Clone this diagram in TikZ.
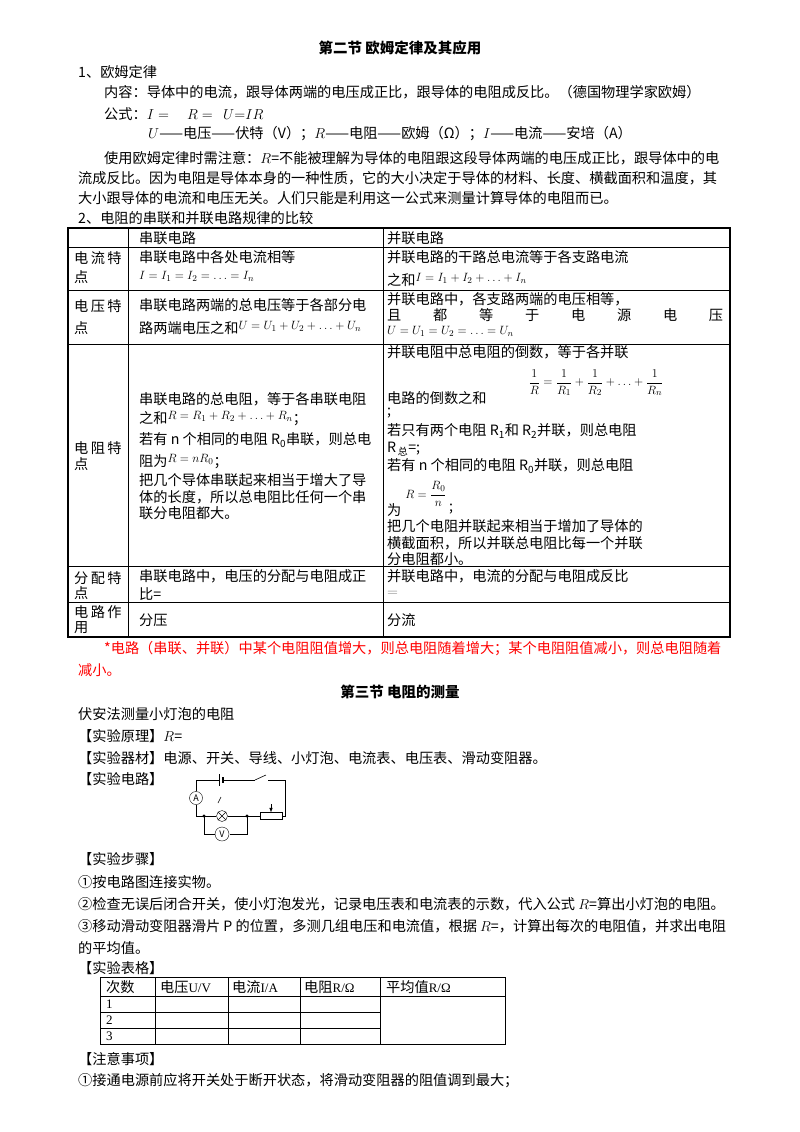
\documentclass[tikz,border=0pt]{standalone}
\usepackage{fontspec}
\setmainfont{Noto Sans CJK SC}
\newfontfamily\tms{Liberation Serif}
\newcommand{\fs}{\fontsize{14}{16}\selectfont}
\newcommand{\fss}{\fontsize{13}{15}\selectfont}
\newcommand{\up}[1]{\raisebox{4pt}{\fss$#1$}}
\begin{document}
\begin{tikzpicture}[x=1pt,y=-1pt,
  t/.style={anchor=west,inner sep=0pt,font=\fontsize{14.2}{16}\selectfont},
  tb/.style={t,font=\fontsize{14.5}{16}\selectfont\bfseries},
  ln/.style={line width=0.6pt},
  thk/.style={line width=1.4pt}]
\useasboundingbox (0,0) rectangle (800,1132);
\fill[white] (0,0) rectangle (800,1132);
\node[tb,anchor=center] (title) at (400,48) {第二节\ 欧姆定律及其应用};
\node[t] (l1) at (78,72) {1、欧姆定律};
\node[t] (l2) at (104,92) {内容：导体中的电流，跟导体两端的电压成正比，跟导体的电阻成反比。（德国物理学家欧姆）};
\node[t] (l3) at (104,114) {公式：{\fs$I=\quad R=\ \ U{=}IR$}};
\node[t] (l4) at (148,134) {{\fs$U$}——电压——伏特（V）；{\fs$R$}——电阻——欧姆（Ω）；{\fs$I$}——电流——安培（A）};
\node[t] (l5) at (104,158) {使用欧姆定律时需注意：{\fs$R$}=不能被理解为导体的电阻跟这段导体两端的电压成正比，跟导体中的电};
\node[t] (l6) at (78,178) {流成反比。因为电阻是导体本身的一种性质，它的大小决定于导体的材料、长度、横截面积和温度，其};
\node[t] (l7) at (78,198) {大小跟导体的电流和电压无关。人们只能是利用这一公式来测量计算导体的电阻而已。};
\node[t] (l8) at (78,218) {2、电阻的串联和并联电路规律的比较};
% table
\draw[thk] (68,228) rectangle (730,637);
\foreach \y in {247,290,344,566,602}{\draw[ln] (68,\y)--(730,\y);}
\draw[ln] (128,228)--(128,637);
\draw[ln] (383,228)--(383,637);
\node[t] (h1) at (139,238) {串联电路};
\node[t] (h2) at (387,238) {并联电路};
\node[t] (a1) at (74,258) {电\,流\,特};
\node[t] (a2) at (74,277) {点};
\node[t] (a3) at (74,306) {电\,压\,特};
\node[t] (a4) at (74,328) {点};
\node[t] (a5) at (74,448) {电\,阻\,特};
\node[t] (a6) at (74,464) {点};
\node[t] (a7) at (74,578) {分\,配\,特};
\node[t] (a8) at (74,593) {点};
\node[t] (a9) at (74,612) {电\,路\,作};
\node[t] (a10) at (74,628) {用};
\node[t] (b1) at (139,257) {串联电路中各处电流相等};
\node[t] (b2) at (139,276) {\fss$I=I_1=I_2=\ldots=I_n$};
\node[t] (b3) at (387,257) {并联电路的干路总电流等于各支路电流};
\node[t] (b4) at (387,280) {之和\up{I=I_1+I_2+\ldots+I_n}};
\node[t] (c1) at (139,305) {串联电路两端的总电压等于各部分电};
\node[t] (c2) at (139,328) {路两端电压之和\up{U=U_1+U_2+\ldots+U_n}};
\node[t] (c3) at (387,299) {并联电路中，各支路两端的电压相等，};
\node[t] (c4) at (387,315) {\makebox[336pt][s]{且\hfill 都\hfill 等\hfill 于\hfill 电\hfill 源\hfill 电\hfill 压}};
\node[t] (c5) at (387,331) {\fss$U=U_1=U_2=\ldots=U_n$};
\node[t] (d1) at (139,399) {串联电路的总电阻，等于各串联电阻};
\node[t] (d2) at (139,419) {之和\up{R=R_1+R_2+\ldots+R_n}；};
\node[t] (d3) at (139,440) {若有 n 个相同的电阻 R\textsubscript{0}串联，则总电};
\node[t] (d4) at (139,462) {阻为\up{R=nR_0}；};
\node[t] (d5) at (139,480) {把几个导体串联起来相当于增大了导};
\node[t] (d6) at (139,497) {体的长度，所以总电阻比任何一个串};
\node[t] (d7) at (139,513) {联分电阻都大。};
\node[t] (e1) at (387,352) {并联电阻中总电阻的倒数，等于各并联};
\node[t] (e2) at (387,398) {电路的倒数之和};
\node[t,anchor=center] (e2f) at (596,383) {\fss$\displaystyle\frac{1}{R}=\frac{1}{R_1}+\frac{1}{R_2}+\ldots+\frac{1}{R_n}$};
\node[t] (e3) at (387,413) {;};
\node[t] (e4) at (387,431) {若只有两个电阻 R\textsubscript{1}和 R\textsubscript{2}并联，则总电阻};
\node[t] (e5) at (387,449) {R\textsubscript{\,总}=;};
\node[t] (e6) at (387,466) {若有 n 个相同的电阻 R\textsubscript{0}并联，则总电阻};
\node[t,anchor=center] (e7f) at (426,494) {\fss$\displaystyle R=\frac{R_0}{n}$};
\node[t] (e7) at (387,510) {为};
\node[t] (e7b) at (449,509) {;};
\node[t] (e8) at (387,526) {把几个电阻并联起来相当于增加了导体的};
\node[t] (e9) at (387,543) {横截面积，所以并联总电阻比每一个并联};
\node[t] (e10) at (387,559) {分电阻都小。};
\node[t] (f1) at (139,576) {串联电路中，电压的分配与电阻成正};
\node[t] (f2) at (139,594) {比=};
\node[t] (f3) at (387,576) {并联电路中，电流的分配与电阻成反比};
\node[t,gray] (f4) at (387,594) {\fs$=$};
\node[t] (g1) at (139,620) {分压};
\node[t] (g2) at (387,620) {分流};
\node[t,red] (r1) at (104,649) {*电路（串联、并联）中某个电阻阻值增大，则总电阻随着增大；某个电阻阻值减小，则总电阻随着};
\node[t,red] (r2) at (78,670) {减小。};
\node[tb,anchor=center] (title2) at (400,692) {第三节\ 电阻的测量};
\node[t] (m1) at (78,714) {伏安法测量小灯泡的电阻};
\node[t] (m2) at (78,736) {【实验原理】{\fs$R$}=};
\node[t] (m3) at (78,758) {【实验器材】电源、开关、导线、小灯泡、电流表、电压表、滑动变阻器。};
\node[t] (m4) at (78,779) {【实验电路】};
% circuit
\coordinate (TL) at (196,780); \coordinate (TR) at (285,780);
\coordinate (J1) at (204,816); \coordinate (J2) at (247,816);
\draw[ln] (TL)--(219,780); \draw[ln] (223,780)--(255,780);
\draw[line width=0.9pt] (219,774)--(219,786);
\draw[line width=1.8pt] (223,777)--(223,783);
\draw[ln] (255,780)--(266,775); \draw[ln] (268,780)--(TR)--(285,816)--(282,816);
\node[draw,circle,inner sep=0pt,minimum size=13pt,fill=white,font=\fontsize{9}{10}\selectfont\itshape] (A) at (196,798) {A};
\draw[ln] (TL)--(A.north); \draw[ln] (A.south)--(196,816)--(J1);
\node[draw,circle,inner sep=0pt,minimum size=11pt,fill=white] (L) at (222,816) {};
\draw[ln] (L.north west)--(L.south east) (L.north east)--(L.south west);
\draw[ln] (J1)--(L.west) (L.east)--(J2)--(260,816);
\draw[ln] (218,803)--(221,797);
\node[draw,rectangle,inner sep=0pt,minimum width=22pt,minimum height=7pt] (Rh) at (271,816) {};
\draw[ln,-latex] (271,804)--(271,812.5);
\draw[ln] (J1)--(204,834)--(215,834); \draw[ln] (230,834)--(247,834)--(J2);
\node[draw,circle,inner sep=0pt,minimum size=14pt,fill=white,font=\fontsize{9}{10}\selectfont\itshape] (V) at (222,834) {V};
\fill (J1) circle (1.6pt) (J2) circle (1.6pt);
\node[t] (s1) at (78,859) {【实验步骤】};
\node[t] (s2) at (78,882) {①按电路图连接实物。};
\node[t] (s3) at (78,904) {②检查无误后闭合开关，使小灯泡发光，记录电压表和电流表的示数，代入公式 {\fs$R$}=算出小灯泡的电阻。};
\node[t] (s4) at (78,926) {③移动滑动变阻器滑片 P 的位置，多测几组电压和电流值，根据 {\fs$R$}=，计算出每次的电阻值，并求出电阻};
\node[t] (s5) at (78,948) {的平均值。};
\node[t] (s6) at (78,968) {【实验表格】};
% small table
\draw[ln] (100,977) rectangle (505,1044);
\draw[ln] (100,996)--(505,996);
\foreach \y in {1012,1028}{\draw[ln] (100,\y)--(380,\y);}
\foreach \x in {155,228,300,380}{\draw[ln] (\x,977)--(\x,1044);}
\node[t] (k1) at (106,987) {次数};
\node[t] (k2) at (160,987) {电压{\tms\fss U/V}};
\node[t] (k3) at (232,987) {电流{\tms\fss I/A}};
\node[t] (k4) at (304,987) {电阻{\tms\fss R/Ω}};
\node[t] (k5) at (386,987) {平均值{\tms\fss R/Ω}};
\node[t,font=\tms\fss] (n1) at (106,1004) {1};
\node[t,font=\tms\fss] (n2) at (106,1020) {2};
\node[t,font=\tms\fss] (n3) at (106,1036) {3};
\node[t] (s7) at (78,1059) {【注意事项】};
\node[t] (s8) at (78,1081) {①接通电源前应将开关处于断开状态，将滑动变阻器的阻值调到最大；};
\end{tikzpicture}
\end{document}
